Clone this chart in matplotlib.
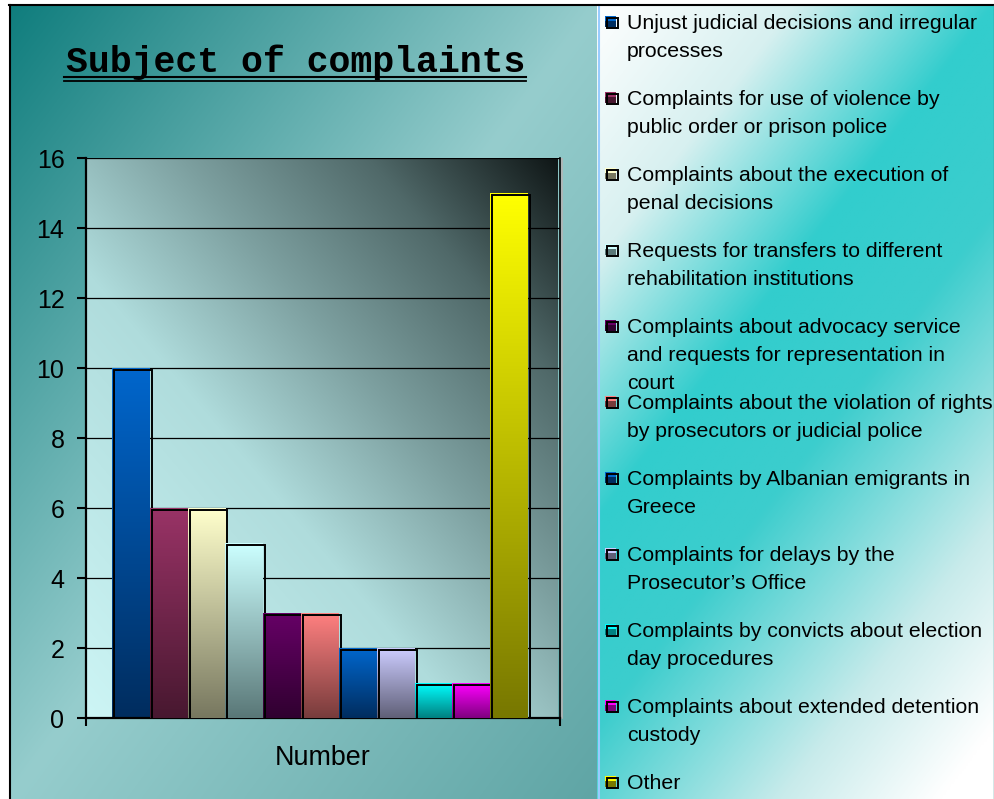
import numpy as np
import matplotlib.pyplot as plt
from matplotlib.patches import Rectangle
from matplotlib.transforms import offset_copy

plt.rcParams['font.family'] = ['Liberation Sans', 'DejaVu Sans']

# data
categories = [
    "Unjust judicial decisions and irregular\nprocesses",
    "Complaints for use of violence by\npublic order or prison police",
    "Complaints about the execution of\npenal decisions",
    "Requests for transfers to different\nrehabilitation institutions",
    "Complaints about advocacy service\nand requests for representation in\ncourt",
    "Complaints about the violation of rights\nby prosecutors or judicial police",
    "Complaints by Albanian emigrants in\nGreece",
    "Complaints for delays by the\nProsecutor\u2019s Office",
    "Complaints by convicts about election\nday procedures",
    "Complaints about extended detention\ncustody",
    "Other",
]
values = [10, 6, 6, 5, 3, 3, 2, 2, 1, 1, 15]
top_colors = ['#0066CC', '#993366', '#FFFFCC', '#CCFFFF', '#660066', '#FF8080',
              '#0066CC', '#CCCCFF', '#00FFFF', '#FF00FF', '#FFFF00']
bottom_colors = ['#002D5F', '#481830', '#787860', '#5A7878', '#300030', '#783C3C',
                 '#002D5F', '#606078', '#008080', '#800080', '#787800']
yticks = [0, 2, 4, 6, 8, 10, 12, 14, 16]
title = "Subject of complaints"
xlabel = "Number"


def ramp(s, stops, cols):
    cols = np.array(cols, dtype=float) / 255.0
    out = np.zeros(s.shape + (3,))
    for c in range(3):
        out[..., c] = np.interp(s, stops, cols[:, c])
    return out


def hex_rgb(h):
    h = h.lstrip('#')
    return np.array([int(h[k:k + 2], 16) for k in (0, 2, 4)]) / 255.0


fig = plt.figure(figsize=(9.94, 7.99), dpi=100)

# background layer in pixel coordinates (y down)
bg = fig.add_axes([0, 0, 1, 1])
bg.axis('off')

xx, yy = np.meshgrid(np.linspace(0, 1, 300), np.linspace(0, 1, 300))
img = ramp(xx + yy, [0, 1, 2], [(15, 125, 125), (150, 205, 205), (95, 165, 165)])
bg.imshow(img, extent=(9, 597, 799, 5), origin='upper', aspect='auto',
          interpolation='bilinear')

xx, yy = np.meshgrid(np.linspace(597, 994, 300), np.linspace(5, 799, 300))
s = (350 * (xx - 597) + 270 * yy) / 140050
img = ramp(s, [0, 0.5, 1.0, 1.4, 2.0, 2.4],
           [(255, 255, 255), (215, 240, 240), (50, 205, 205), (60, 205, 205),
            (200, 235, 235), (255, 255, 255)])
bg.imshow(img, extent=(597, 994, 799, 5), origin='upper', aspect='auto',
          interpolation='bilinear')

bg.plot([598.5, 598.5], [5, 799], color='#99CCFF', lw=1.5)
bg.plot([9, 994], [5, 5], color='black', lw=1.5)
bg.plot([9.5, 9.5], [5, 799], color='black', lw=1.5)
bg.plot([993.5, 993.5], [5, 799], color='#2A8C8C', lw=1)

# title with double underline
bg.text(295.5, 71.7, title, family=['Liberation Mono', 'DejaVu Sans Mono'],
        weight='bold', fontsize=26.3, ha='center', va='baseline')
bg.plot([64, 526], [77.2, 77.2], color='black', lw=1.5)
bg.plot([64, 526], [80.8, 80.8], color='black', lw=1.3)

# legend
for k, label in enumerate(categories):
    y0 = 23.3 + 76 * k
    bg.add_patch(Rectangle((605, y0 - 7.3), 11, 5.4, fc=top_colors[k], ec='none'))
    bg.add_patch(Rectangle((605, y0 - 1.9), 11, 5.4, fc=bottom_colors[k], ec='none'))
    bg.add_patch(Rectangle((606.5, y0 - 5), 11.5, 10, fill=False, ec='black', lw=1.4))
    for j, line in enumerate(label.split('\n')):
        bg.text(627, y0 + 28 * j, line, fontsize=15.3, ha='left', va='center')

# gray 3D edge of the plot wall
bg.plot([87, 562], [158.5, 158.5], color='#B4B4B4', lw=1.2)
bg.plot([562, 562], [158.5, 718], color='#B4B4B4', lw=1.2)

bg.set_xlim(0, 994)
bg.set_ylim(799, 0)

# chart
ax = fig.add_axes([86 / 994, 81 / 799, 474 / 994, 560 / 799])
ax.patch.set_visible(False)
unit = 416 / 11
xmin = -0.5 - 26 / unit
xmax = xmin + 474 / unit

uu, vv = np.meshgrid(np.linspace(0, 1, 300), np.linspace(1, 0, 300))
wall = ramp(uu + vv, [0, 0.8, 1.2, 1.6, 2.0],
            [(205, 245, 245), (175, 220, 220), (125, 160, 160), (80, 105, 105), (15, 22, 22)])
ax.imshow(wall, extent=(xmin, xmin + 472 / unit, 0, 16), origin='upper',
          aspect='auto', interpolation='bilinear', zorder=0.1)

ax.set_axisbelow(True)
ax.grid(axis='y', color='black', lw=0.9)

shifted = offset_copy(ax.transData, fig=fig, x=2, y=-2, units='dots')
t = np.linspace(0, 1, 64)[:, None, None]
for i, v in enumerate(values):
    grad = hex_rgb(top_colors[i]) * (1 - t) + hex_rgb(bottom_colors[i]) * t
    ax.imshow(grad, extent=(i - 0.5, i + 0.5, 0, v), origin='upper', aspect='auto',
              interpolation='bilinear', zorder=2 + 2 * i)
    ax.add_patch(Rectangle((i - 0.5, 0), 1, v, fill=False, ec='black', lw=1.4,
                           transform=shifted, zorder=3 + 2 * i))

ax.set_xlim(xmin, xmax)
ax.set_ylim(0, 16)
ax.set_yticks(yticks)
ax.set_xticks([xmin, xmax])
ax.set_xticklabels([])
ax.tick_params(axis='y', direction='out', length=6.5, width=1.5, labelsize=18, pad=9)
ax.tick_params(axis='x', direction='out', length=6, width=1.5)
for side in ['left', 'bottom']:
    ax.spines[side].set_linewidth(1.6)
ax.spines['top'].set_visible(False)
ax.spines['right'].set_linewidth(1.2)

ax.set_xlabel(xlabel, fontsize=19.4)
ax.xaxis.label.set_va('center')
ax.xaxis.set_label_coords(0.5, -40 / 560)

fig.savefig('out.png', dpi=100)
